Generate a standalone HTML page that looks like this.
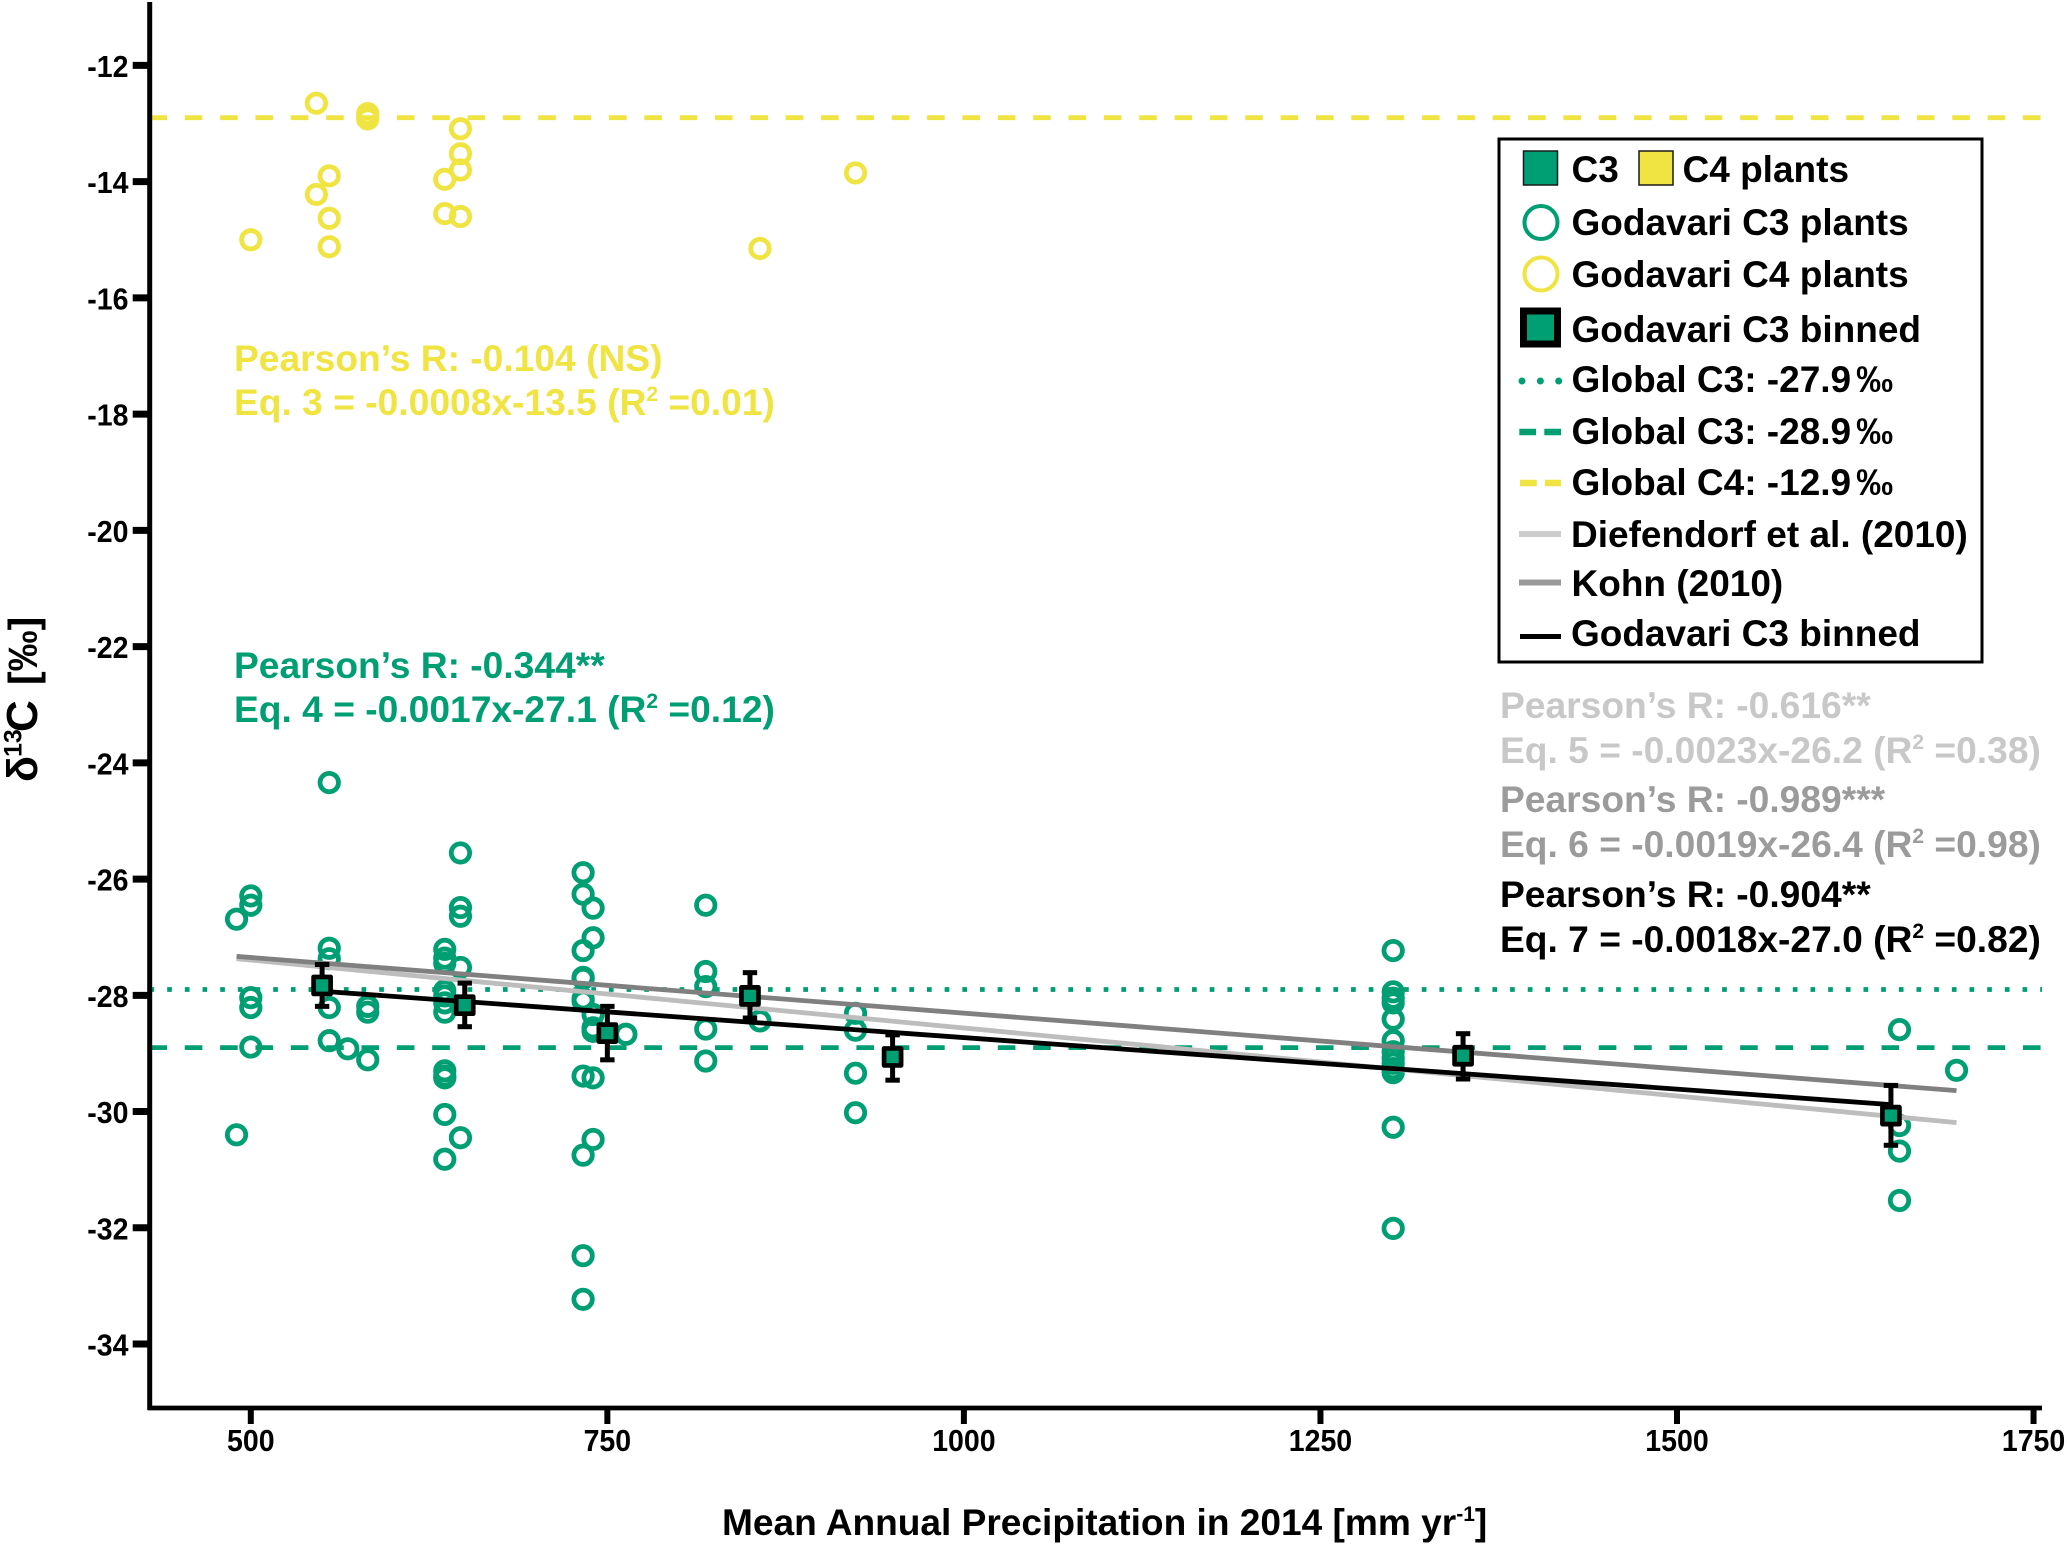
<!DOCTYPE html>
<html lang="en">
<head>
<meta charset="utf-8">
<title>Carbon isotope values versus mean annual precipitation</title>
<style>
html,body{margin:0;padding:0;background:#fff;}
svg{display:block;}
text{font-family:"Liberation Sans",sans-serif;font-weight:bold;}
.t37{font-size:37px;}
.t372{font-size:37.2px;}
.yl{fill:#f0e442;}
.gr{fill:#009e73;}
.lg{fill:#c8c8c8;}
.md{fill:#9b9b9b;}
.bk{fill:#000;}
</style>
</head>
<body>
<svg id="chart" xmlns="http://www.w3.org/2000/svg" width="2067" height="1546" viewBox="0 0 2067 1546">
  <rect width="2067" height="1546" fill="#fff"/>
  <g id="plot"></g>

  <text font-size="37.1" x="722" y="1535">Mean Annual Precipitation in 2014 [mm yr<tspan font-size="21" dy="-14">-1</tspan><tspan dy="14">]</tspan></text>
  <text transform="translate(37,782) rotate(-90)"><tspan font-size="43" x="0" y="0">δ</tspan><tspan font-size="25" x="25" y="-15.5">13</tspan><tspan font-size="44" x="50" y="0">C</tspan><tspan font-size="41" x="97" y="0">[‰]</tspan></text>

  <g>
    <text class="t372 yl" x="234" y="371">Pearson’s R: -0.104 (NS)</text>
    <text class="t372 yl" x="234" y="415">Eq. 3 = -0.0008x-13.5 (R<tspan font-size="21" dy="-14">2</tspan><tspan dy="14"> =0.01)</tspan></text>
  </g>
  <g>
    <text class="t372 gr" x="234" y="678">Pearson’s R: -0.344**</text>
    <text class="t372 gr" x="234" y="722">Eq. 4 = -0.0017x-27.1 (R<tspan font-size="21" dy="-14">2</tspan><tspan dy="14"> =0.12)</tspan></text>
  </g>
  <g>
    <text class="t372 lg" x="1500" y="718">Pearson’s R: -0.616**</text>
    <text class="t372 lg" x="1500" y="763">Eq. 5 = -0.0023x-26.2 (R<tspan font-size="21" dy="-14">2</tspan><tspan dy="14"> =0.38)</tspan></text>
    <text class="t372 md" x="1500" y="812">Pearson’s R: -0.989***</text>
    <text class="t372 md" x="1500" y="857">Eq. 6 = -0.0019x-26.4 (R<tspan font-size="21" dy="-14">2</tspan><tspan dy="14"> =0.98)</tspan></text>
    <text class="t372 bk" x="1500" y="907">Pearson’s R: -0.904**</text>
    <text class="t372 bk" x="1500" y="952">Eq. 7 = -0.0018x-27.0 (R<tspan font-size="21" dy="-14">2</tspan><tspan dy="14"> =0.82)</tspan></text>
  </g>

  <g>
    <rect x="1499" y="139" width="483" height="523" fill="#fff" stroke="#000" stroke-width="3"/>
    <g>
      <rect x="1523.5" y="151" width="34" height="34" fill="#009e73" stroke="#1a1a1a" stroke-width="1.5"/>
      <text class="t37" x="1571.5" y="182">C3</text>
      <rect x="1639" y="151" width="34" height="34" fill="#f0e442" stroke="#1a1a1a" stroke-width="1.5"/>
      <text class="t37" x="1682.5" y="182">C4 plants</text>
    </g>
    <g>
      <circle cx="1541" cy="222.5" r="16.5" fill="none" stroke="#009e73" stroke-width="4"/>
      <text class="t37" x="1571.5" y="235">Godavari C3 plants</text>
    </g>
    <g>
      <circle cx="1541" cy="274" r="16.5" fill="none" stroke="#f0e442" stroke-width="4"/>
      <text class="t37" x="1571.5" y="287">Godavari C4 plants</text>
    </g>
    <g>
      <rect x="1523.5" y="311" width="34" height="33" fill="#009e73" stroke="#000" stroke-width="7"/>
      <text class="t37" x="1571.5" y="342">Godavari C3 binned</text>
    </g>
    <g>
      <line x1="1522" y1="381" x2="1560" y2="381" stroke="#009e73" stroke-width="7" stroke-linecap="round" stroke-dasharray="0 18.35"/>
      <text class="t37" x="1571.5" y="392">Global C3: -27.9<tspan dx="5">‰</tspan></text>
    </g>
    <g>
      <line x1="1519.3" y1="432" x2="1561" y2="432" stroke="#009e73" stroke-width="6.5" stroke-dasharray="16.7 8.3"/>
      <text class="t37" x="1571.5" y="444">Global C3: -28.9<tspan dx="5">‰</tspan></text>
    </g>
    <g>
      <line x1="1520" y1="483" x2="1561" y2="483" stroke="#f0e442" stroke-width="6.5" stroke-dasharray="16.7 8.3"/>
      <text class="t37" x="1571.5" y="495">Global C4: -12.9<tspan dx="5">‰</tspan></text>
    </g>
    <g>
      <line x1="1519" y1="534" x2="1561" y2="534" stroke="#cccccc" stroke-width="6"/>
      <text class="t37" x="1571" y="547">Diefendorf et al. (2010)</text>
    </g>
    <g>
      <line x1="1519" y1="582.5" x2="1561" y2="582.5" stroke="#999999" stroke-width="6"/>
      <text class="t37" x="1571.5" y="596">Kohn (2010)</text>
    </g>
    <g>
      <line x1="1520" y1="636.5" x2="1561" y2="636.5" stroke="#000" stroke-width="5"/>
      <text class="t37" x="1571" y="646">Godavari C3 binned</text>
    </g>
  </g>
</svg>
<script>
// ---- chart data (axis units: mm/yr and per mil) ----
const xTickValues = [500, 750, 1000, 1250, 1500, 1750];
const yTickValues = [-12, -14, -16, -18, -20, -22, -24, -26, -28, -30, -32, -34];

const c4PlantsX = [546, 500, 546, 555, 555, 555, 582, 582, 582, 636, 636, 647, 647, 647, 647, 857, 924];
const c4PlantsY = [-12.65, -15.0, -14.22, -13.9, -14.63, -15.12, -12.83, -12.88, -12.92, -13.96, -14.55, -13.09, -13.52, -13.8, -14.6, -15.15, -13.85];

const c3PlantsX = [490, 490, 500, 500, 500, 500, 500, 555, 555, 555, 555, 555, 568, 582, 582, 582,
  636, 636, 636, 636, 636, 636, 636, 636, 636, 636, 636, 636, 647, 647, 647, 647, 647,
  733, 733, 733, 733, 733, 733, 733, 733, 733, 733, 733,
  740, 740, 740, 740, 740, 740, 740, 763,
  819, 819, 819, 819, 819, 857, 924, 924, 924, 924,
  1301, 1301, 1301, 1301, 1301, 1301, 1301, 1301, 1301, 1301, 1301, 1301, 1301,
  1656, 1656, 1656, 1656, 1696];
const c3PlantsY = [-26.69, -30.40, -26.29, -26.45, -28.04, -28.21, -28.89, -24.34, -27.19, -27.37, -28.21, -28.78, -28.92, -28.19, -28.29, -29.11,
  -27.21, -27.36, -27.45, -27.92, -28.01, -28.13, -28.29, -29.30, -29.39, -29.42, -30.05, -30.82, -25.55, -26.49, -26.64, -27.52, -30.45,
  -25.89, -26.26, -27.23, -27.69, -27.71, -28.06, -28.10, -29.39, -30.75, -32.48, -33.23,
  -26.50, -27.01, -28.33, -28.56, -28.62, -29.42, -30.48, -28.67,
  -26.45, -27.59, -27.85, -28.58, -29.13, -28.44, -28.31, -28.60, -29.34, -30.02,
  -27.23, -27.94, -28.05, -28.13, -28.41, -28.78, -28.97, -29.08, -29.17, -29.26, -29.33, -30.27, -32.01,
  -28.59, -30.24, -30.68, -31.53, -29.29];

const binnedX = [550, 650, 750, 850, 950, 1350, 1650];
const binnedY = [-27.83, -28.17, -28.65, -28.01, -29.06, -29.04, -30.07];
const binnedErrTop = [-27.47, -27.79, -28.19, -27.61, -28.68, -28.66, -29.55];
const binnedErrBottom = [-28.19, -28.54, -29.11, -28.39, -29.46, -29.44, -30.58];

const diefendorfX = [490, 1696];
const diefendorfY = [-27.37, -30.19];
const kohnX = [490, 1696];
const kohnY = [-27.33, -29.64];
const binnedLineX = [550, 1650];
const binnedLineY = [-27.93, -29.88];

const globalC3Dotted = -27.9;
const globalC3Dashed = -28.9;
const globalC4Dashed = -12.9;

// ---- axis functions ----
function xScale(v) { return 250.8 + (v - 500) * 1.4262; }
function yScale(v) { return 65.4 + (-12 - v) * 58.12; }

const SVG_NS = 'http://www.w3.org/2000/svg';
const plot = document.getElementById('plot');
const AXIS_LEFT = 149.7;
const AXIS_RIGHT = 2042;
const AXIS_BOTTOM = 1408;
const GREEN = '#009e73';
const YELLOW = '#f0e442';

function make(tag, parent, attrs) {
  const el = document.createElementNS(SVG_NS, tag);
  for (const k in attrs) el.setAttribute(k, attrs[k]);
  parent.appendChild(el);
  return el;
}

// scatter: C3
const c3Group = make('g', plot, {});


c3PlantsX.forEach(function (x, i) {
  const el = make('circle', c3Group, { cx: xScale(x), cy: yScale(c3PlantsY[i]), r: 9.2, fill: 'none', stroke: GREEN, 'stroke-width': 4.8 });
  
  
});

// scatter: C4
const c4Group = make('g', plot, {});


c4PlantsX.forEach(function (x, i) {
  const el = make('circle', c4Group, { cx: xScale(x), cy: yScale(c4PlantsY[i]), r: 9.2, fill: 'none', stroke: YELLOW, 'stroke-width': 4.8 });
  
  
});

// reference lines
const refDotted = make('line', plot, { x1: 149.5, x2: AXIS_RIGHT, y1: yScale(globalC3Dotted), y2: yScale(globalC3Dotted), stroke: GREEN, 'stroke-width': 4.7, 'stroke-dasharray': '4.7 12.97' });


const refDashed = make('line', plot, { x1: 149.4, x2: AXIS_RIGHT, y1: yScale(globalC3Dashed), y2: yScale(globalC3Dashed), stroke: GREEN, 'stroke-width': 4.8, 'stroke-dasharray': '17.6 17.75' });


const refC4 = make('line', plot, { x1: 149.4, x2: AXIS_RIGHT, y1: yScale(globalC4Dashed), y2: yScale(globalC4Dashed), stroke: YELLOW, 'stroke-width': 4.8, 'stroke-dasharray': '17.6 17.75' });



// trend lines
const trendDief = make('line', plot, { x1: xScale(diefendorfX[0]), y1: yScale(diefendorfY[0]), x2: xScale(diefendorfX[1]), y2: yScale(diefendorfY[1]), stroke: '#bdbdbd', 'stroke-width': 4.8 });


const trendKohn = make('line', plot, { x1: xScale(kohnX[0]), y1: yScale(kohnY[0]), x2: xScale(kohnX[1]), y2: yScale(kohnY[1]), stroke: '#808080', 'stroke-width': 4.8 });


const trendBinned = make('line', plot, { x1: xScale(binnedLineX[0]), y1: yScale(binnedLineY[0]), x2: xScale(binnedLineX[1]), y2: yScale(binnedLineY[1]), stroke: '#000', 'stroke-width': 4.8 });



// binned markers with error bars
const binGroup = make('g', plot, {});


binnedX.forEach(function (x, i) {
  const cx = xScale(x);
  const top = yScale(binnedErrTop[i]);
  const bottom = yScale(binnedErrBottom[i]);
  const stem = make('line', binGroup, { x1: cx, x2: cx, y1: top, y2: bottom, stroke: '#000', 'stroke-width': 5 });
  
  
  const capTop = make('line', binGroup, { x1: cx - 7.2, x2: cx + 7.2, y1: top, y2: top, stroke: '#000', 'stroke-width': 5 });
  
  
  const capBottom = make('line', binGroup, { x1: cx - 7.2, x2: cx + 7.2, y1: bottom, y2: bottom, stroke: '#000', 'stroke-width': 5 });
  
  
  const sq = make('rect', binGroup, { x: cx - 8.5, y: yScale(binnedY[i]) - 8.5, width: 17, height: 17, fill: GREEN, stroke: '#000', 'stroke-width': 4.7, 'stroke-linejoin': 'round' });
  
  
});

// axes
const yAxisLine = make('line', plot, { x1: AXIS_LEFT, x2: AXIS_LEFT, y1: 2, y2: AXIS_BOTTOM + 2, stroke: '#000', 'stroke-width': 5 });


const xAxisLine = make('line', plot, { x1: AXIS_LEFT - 2, x2: AXIS_RIGHT, y1: AXIS_BOTTOM, y2: AXIS_BOTTOM, stroke: '#000', 'stroke-width': 4.8 });



xTickValues.forEach(function (v) {
  const tick = make('line', plot, { x1: xScale(v), x2: xScale(v), y1: AXIS_BOTTOM, y2: 1424, stroke: '#000', 'stroke-width': 6 });
  
  
  const label = make('text', plot, { 'text-anchor': 'middle', 'font-size': 31, transform: 'translate(' + xScale(v) + ',1451) scale(0.92,1)' });
  
  
  label.textContent = String(v);
});

yTickValues.forEach(function (v) {
  const tick = make('line', plot, { x1: 132.7, x2: AXIS_LEFT, y1: yScale(v), y2: yScale(v), stroke: '#000', 'stroke-width': 7 });
  
  
  const label = make('text', plot, { 'text-anchor': 'end', 'font-size': 31, transform: 'translate(128.5,' + (yScale(v) + 11.5) + ') scale(0.92,1)' });
  
  
  label.textContent = String(v);
});
</script>
</body>
</html>
